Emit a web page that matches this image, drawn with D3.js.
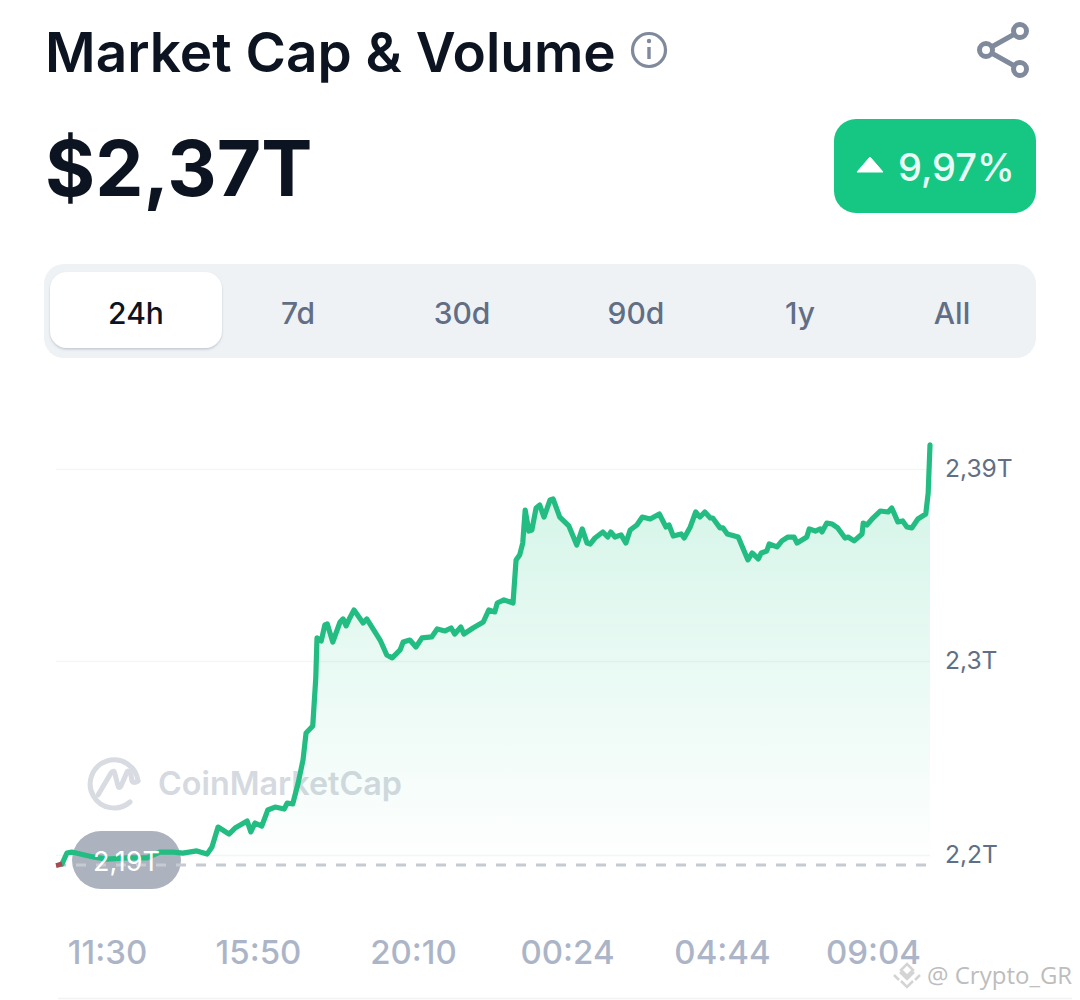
<!DOCTYPE html>
<html>
<head>
<meta charset="utf-8">
<title>Market Cap & Volume</title>
<script src="https://cdn.jsdelivr.net/npm/d3@7"></script>
<style>
    html, body { margin: 0; padding: 0; background: #ffffff; }
    svg { display: block; }
    text { font-family: Inter, "Noto Sans", sans-serif; }
</style>
</head>
<body>
<div id="chart"></div>
<script>
// Minutes since the start of the 24h window
const minutes = [0, 3, 10, 18, 26, 40, 61, 84, 117, 150, 171, 193, 209, 232, 249, 257, 267, 285, 295, 315,
    321, 328, 339, 349, 361, 376, 381, 390, 399, 407, 412, 423, 428, 430, 437, 443, 447, 456, 468, 473,
    478, 484, 491, 506, 512, 534, 545, 554, 567, 572, 583, 593, 603, 619, 628, 641, 651, 657, 667, 672,
    687, 704, 713, 723, 727, 738, 753, 758, 764, 769, 773, 779, 784, 791, 797, 804, 814, 819, 830, 845,
    858, 867, 875, 880, 888, 901, 909, 914, 921, 931, 939, 946, 957, 966, 979, 994, 1005, 1010, 1017, 1030,
    1035, 1045, 1054, 1061, 1069, 1078, 1082, 1094, 1099, 1106, 1124, 1140, 1147, 1157, 1162, 1171, 1175, 1188, 1196, 1206,
    1216, 1221, 1237, 1241, 1251, 1259, 1262, 1270, 1279, 1288, 1300, 1305, 1315, 1328, 1330, 1336, 1346, 1358, 1371, 1377,
    1387, 1395, 1402, 1410, 1420, 1433, 1437, 1440];

// Market cap in billions
const marketCap = [2194.6, 2194.8, 2195.4, 2201.0, 2201.5, 2200.5, 2199.0, 2197.9, 2198.5, 2198.5, 2201.5, 2201.5, 2201.0, 2202.1, 2200.5, 2204.1, 2214.4, 2210.8, 2213.9, 2217.5,
    2211.9, 2216.5, 2214.9, 2223.2, 2224.7, 2223.7, 2226.8, 2226.3, 2237.1, 2249.0, 2262.9, 2266.5, 2291.2, 2311.9, 2310.3, 2318.6, 2319.1, 2309.8, 2320.1, 2321.7,
    2318.1, 2322.2, 2326.3, 2319.6, 2321.7, 2310.8, 2303.1, 2301.6, 2305.7, 2309.8, 2310.8, 2307.2, 2311.9, 2312.4, 2316.5, 2315.5, 2317.0, 2313.9, 2317.5, 2313.9,
    2317.0, 2320.1, 2326.3, 2325.3, 2329.9, 2331.5, 2329.9, 2352.1, 2354.7, 2360.8, 2377.8, 2367.0, 2367.5, 2378.9, 2380.4, 2374.2, 2383.0, 2383.5, 2374.2, 2369.6,
    2359.8, 2368.1, 2360.8, 2360.3, 2363.4, 2366.5, 2363.9, 2366.5, 2363.9, 2365.0, 2360.8, 2367.5, 2370.1, 2374.2, 2373.2, 2375.8, 2369.1, 2370.1, 2364.4, 2365.5,
    2363.4, 2369.1, 2376.8, 2374.2, 2376.8, 2373.7, 2373.7, 2368.6, 2368.6, 2365.5, 2363.9, 2352.1, 2355.7, 2352.6, 2355.7, 2356.7, 2360.3, 2358.8, 2361.9, 2363.9,
    2363.9, 2360.8, 2363.9, 2368.1, 2367.0, 2368.1, 2366.5, 2371.1, 2370.6, 2368.6, 2363.4, 2363.9, 2361.9, 2365.5, 2371.1, 2370.1, 2373.7, 2377.3, 2376.8, 2378.9,
    2371.7, 2372.2, 2369.1, 2368.6, 2373.2, 2375.8, 2386.6, 2411.4];

const timeLabels = ["11:30", "15:50", "20:10", "00:24", "04:44", "09:04"];
const valueTicks = [2200, 2300, 2399];
const valueLabels = ["2,2T", "2,3T", "2,39T"];
const openValue = 2194.8;
const ranges = ["24h", "7d", "30d", "90d", "1y", "All"];
const rangeCenters = [136, 298, 462, 636, 800, 952];

const width = 1080;
const height = 1000;

const svg = d3.select("#chart").append("svg")
    .attr("width", width)
    .attr("height", height)
    .attr("viewBox", [0, 0, width, height]);

const defs = svg.append("defs");

const fade = defs.append("linearGradient")
    .attr("id", "area-fade")
    .attr("gradientUnits", "userSpaceOnUse")
    .attr("x1", 0).attr("x2", 0)
    .attr("y1", 445).attr("y2", 865);
fade.append("stop").attr("offset", "0%").attr("stop-color", "#16c784").attr("stop-opacity", 0.2);
fade.append("stop").attr("offset", "100%").attr("stop-color", "#16c784").attr("stop-opacity", 0);

const tabShadow = defs.append("filter")
    .attr("id", "tab-shadow")
    .attr("x", "-10%").attr("y", "-20%")
    .attr("width", "120%").attr("height", "140%");
tabShadow.append("feDropShadow")
    .attr("dx", 0).attr("dy", 1.5)
    .attr("stdDeviation", 1)
    .attr("flood-color", "#58667e")
    .attr("flood-opacity", 0.3);

// Header
svg.append("text")
    .attr("x", 45).attr("y", 72)
    .attr("font-size", 54.9).attr("font-weight", 600)
    .attr("fill", "#0d1421")
    .text("Market Cap & Volume");

const info = svg.append("g").attr("transform", "translate(649,50)");
info.append("circle").attr("r", 16.5).attr("fill", "none").attr("stroke", "#808a9d").attr("stroke-width", 3.2);
info.append("circle").attr("cy", -9).attr("r", 2.2).attr("fill", "#808a9d");
info.append("line").attr("y1", -3).attr("y2", 9).attr("stroke", "#808a9d").attr("stroke-width", 3.4);

const share = svg.append("g")
    .attr("stroke", "#808a9d")
    .attr("stroke-width", 5)
    .attr("fill", "none");
share.append("path").attr("d", "M1020,31 L986,50 L1020,69");
[[1020, 31], [986, 50], [1020, 69]].forEach(([cx, cy]) => {
    share.append("circle").attr("cx", cx).attr("cy", cy).attr("r", 6.5).attr("fill", "#ffffff");
});

svg.append("text")
    .attr("x", 45).attr("y", 196)
    .attr("font-size", 76.6).attr("font-weight", 700)
    .attr("fill", "#0d1421")
    .text("$2,37T");

// Change badge
svg.append("rect")
    .attr("x", 834).attr("y", 119)
    .attr("width", 202).attr("height", 94)
    .attr("rx", 22)
    .attr("fill", "#16c784");
svg.append("path")
    .attr("d", "M870,157 L883,172 L857,172 Z")
    .attr("fill", "#ffffff")
    .attr("stroke", "#ffffff")
    .attr("stroke-width", 1)
    .attr("stroke-linejoin", "round");
svg.append("text")
    .attr("x", 898).attr("y", 181)
    .attr("font-size", 38).attr("font-weight", 500)
    .attr("fill", "#e9fbf4")
    .text("9,97%");

// Range tabs
svg.append("rect")
    .attr("x", 44).attr("y", 264)
    .attr("width", 992).attr("height", 94)
    .attr("rx", 20)
    .attr("fill", "#eff2f5");
svg.append("rect")
    .attr("x", 50).attr("y", 272)
    .attr("width", 172).attr("height", 76)
    .attr("rx", 17)
    .attr("fill", "#ffffff")
    .attr("filter", "url(#tab-shadow)");
svg.append("g").selectAll("text")
    .data(ranges)
    .join("text")
    .attr("x", (d, i) => rangeCenters[i])
    .attr("y", 324)
    .attr("text-anchor", "middle")
    .attr("font-size", 30)
    .attr("font-weight", 500)
    .attr("fill", (d, i) => i === 0 ? "#0d1421" : "#616e85")
    .text(d => d);

// Scales
const x = d3.scaleLinear().domain([0, 1440]).range([56, 930]);
const y = d3.scaleLinear().domain([2200, 2300]).range([855, 661]);
// The app spaces its time labels evenly by hand, not on the data scale
const xLabels = d3.scaleOrdinal().domain(timeLabels).range([107, 258, 413, 567, 722, 873]);

// Value axis, its ticks double as the grid lines
const yAxis = svg.append("g")
    .attr("transform", "translate(930,0)")
    .call(d3.axisRight(y)
        .tickValues(valueTicks)
        .tickFormat((d, i) => valueLabels[i])
        .tickSize(0)
        .tickPadding(15));
yAxis.select(".domain").remove();
yAxis.selectAll("text")
    .attr("font-size", 24.6)
    .attr("font-family", "Inter, sans-serif")
    .attr("fill", "#616e85");
yAxis.selectAll(".tick").append("line")
    .attr("x1", -874).attr("x2", 0)
    .attr("stroke", "#f4f5f7")
    .attr("stroke-width", 1.5);

// Time axis
const xAxis = svg.append("g")
    .attr("transform", "translate(0,929)")
    .call(d3.axisBottom(xLabels).tickSize(0).tickPadding(12));
xAxis.select(".domain").remove();
xAxis.selectAll("text")
    .attr("font-size", 33)
    .attr("font-family", "Inter, sans-serif")
    .attr("font-weight", 500)
    .attr("fill", "#acb5c8");

svg.append("line")
    .attr("x1", 58).attr("x2", 1072)
    .attr("y1", 998.5).attr("y2", 998.5)
    .attr("stroke", "#f1f2f4")
    .attr("stroke-width", 1.5);

// CoinMarketCap watermark
const logo = svg.append("g")
    .attr("transform", "translate(114,781)")
    .attr("fill", "none")
    .attr("stroke", "#d8dbe2")
    .attr("stroke-width", 5)
    .attr("stroke-linecap", "round")
    .attr("stroke-linejoin", "round");
logo.append("path").attr("d", "M16,21 A24,24 0 1,1 24,0");
logo.append("path").attr("d", "M-16,14 L-3,-8 Q0,-12 1,-7 L4,5 Q5,8 7,5 L13,-9 Q15,-12 17,-6 L18,0 Q20,3 24,0");
svg.append("text")
    .attr("x", 158).attr("y", 795)
    .attr("font-size", 32.3).attr("font-weight", 600)
    .attr("fill", "#d5d9e0")
    .text("CoinMarketCap");

// Area and line
const points = minutes.map((m, i) => [m, marketCap[i]]);

const area = d3.area()
    .x(d => x(d[0]))
    .y0(y(openValue))
    .y1(d => y(d[1]));

const line = d3.line()
    .x(d => x(d[0]))
    .y(d => y(d[1]));

svg.append("path")
    .attr("d", area(points.slice(2)))
    .attr("fill", "url(#area-fade)");

// Opening value pill and dashed reference line
svg.append("rect")
    .attr("x", 72).attr("y", 831)
    .attr("width", 109).attr("height", 58)
    .attr("rx", 29)
    .attr("fill", "#adb2bf");
svg.append("line")
    .attr("x1", 56).attr("x2", 930)
    .attr("y1", y(openValue)).attr("y2", y(openValue))
    .attr("stroke", "#c6cad2")
    .attr("stroke-width", 3)
    .attr("stroke-dasharray", "10 10");

svg.append("path")
    .attr("d", line(points.slice(2)))
    .attr("fill", "none")
    .attr("stroke", "#23bd83")
    .attr("stroke-width", 5.2)
    .attr("stroke-linejoin", "round")
    .attr("stroke-linecap", "round");
svg.append("path")
    .attr("d", line(points.slice(0, 3)))
    .attr("fill", "none")
    .attr("stroke", "#a84a50")
    .attr("stroke-width", 5);

svg.append("text")
    .attr("x", 126.5).attr("y", 871)
    .attr("text-anchor", "middle")
    .attr("font-size", 27)
    .attr("fill", "#ffffff")
    .text("2,19T");

// Repost watermark, bottom right
const mark = svg.append("g")
    .attr("transform", "translate(907,975)")
    .attr("fill", "none")
    .attr("stroke", "#d4d4d4")
    .attr("stroke-width", 2.5);
mark.append("path").attr("d", "M0,-11 L6,-5 L0,1 L-6,-5 Z");
mark.append("path").attr("d", "M-7,-3 L0,4 L7,-3");
mark.append("path").attr("d", "M-13,0 L-8,5 M13,0 L8,5");
mark.append("path").attr("d", "M-6,6 L0,12 L6,6");
svg.append("text")
    .attr("x", 927).attr("y", 984)
    .attr("font-size", 24)
    .attr("style", "font-family: 'Open Sans', sans-serif")
    .attr("fill", "#bdbdbd")
    .text("@ Crypto_GR");
</script>
</body>
</html>
